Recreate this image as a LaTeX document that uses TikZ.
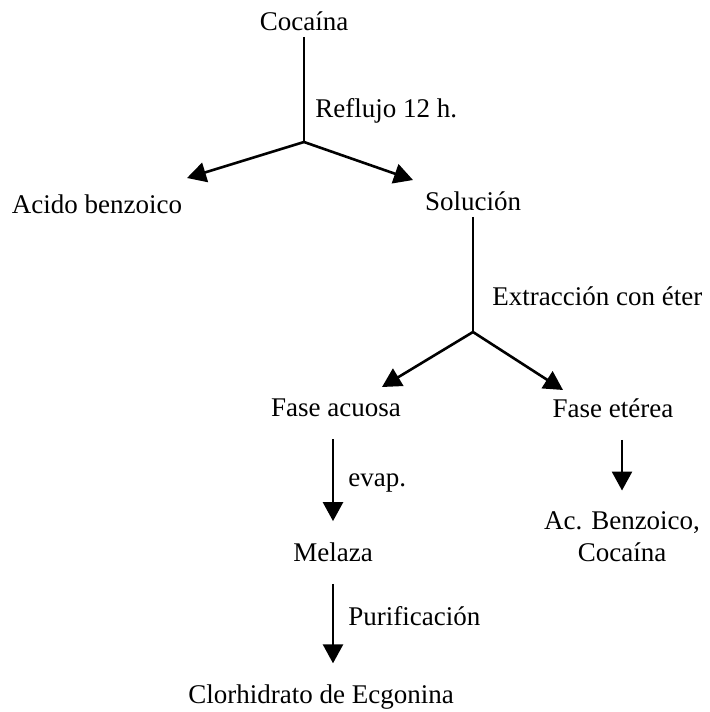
\documentclass[tikz,border=0pt]{standalone}
\usepackage{fontspec}
\setmainfont{Liberation Serif}
\usetikzlibrary{arrows.meta}

\begin{document}
\begin{tikzpicture}[x=0.5pt,y=-0.5pt,
  paso/.style={font=\fontsize{13.5}{16}\selectfont,inner sep=3pt,align=center},
  etiq/.style={font=\fontsize{13.5}{16}\selectfont,inner sep=0pt,anchor=base west},
  linea/.style={line width=1.3pt},
  arr/.style={-{Triangle[length=9.5pt,width=10pt]},line width=1.3pt},
  baja/.style={arr,shorten <=8pt,shorten >=7.5pt}]
\useasboundingbox (0,0) rectangle (710,712);
\node[paso] (coc) at (304,21) {Cocaína};
\coordinate (j1) at (304,142);
\coordinate (t1) at (187,178);
\coordinate (t2) at (413,180);
\node[paso] (acido) at (97,204) {Acido benzoico};
\node[paso] (sol) at (473,201) {Solución};
\coordinate (j2) at (473,332);
\coordinate (t3) at (382,387);
\coordinate (t4) at (563,390);
\node[paso] (acuosa) at (336,408) {Fase acuosa};
\node[paso] (eterea) at (613,408) {Fase etérea};
\node[paso] (melaza) at (333,552) {Melaza};
\node[paso] (acbenz) at (622,537) {Ac. Benzoico,\\Cocaína};
\node[paso] (clorh) at (321,697) {Clorhidrato de Ecgonina};
% rotulos de las flechas
\node[etiq] (reflujo) at (315,117) {Reflujo 12 h.};
\node[etiq] (extrac) at (492,305) {Extracción con éter};
\node[etiq] (evap) at (348,486) {evap.};
\node[etiq] (purif) at (348,625) {Purificación};
% conectores
\draw[linea] (coc) -- (j1);
\draw[linea] (sol) -- (j2);
\foreach \x/\y in {j1/t1,j1/t2,j2/t3,j2/t4}\draw[arr] (\x) -- (\y);
\draw[baja] (acuosa.south -| melaza) -- (melaza);
\draw[baja] (melaza) -- (melaza |- clorh.north);
\draw[baja] (eterea.south -| acbenz) -- (acbenz);
\end{tikzpicture}
\end{document}
